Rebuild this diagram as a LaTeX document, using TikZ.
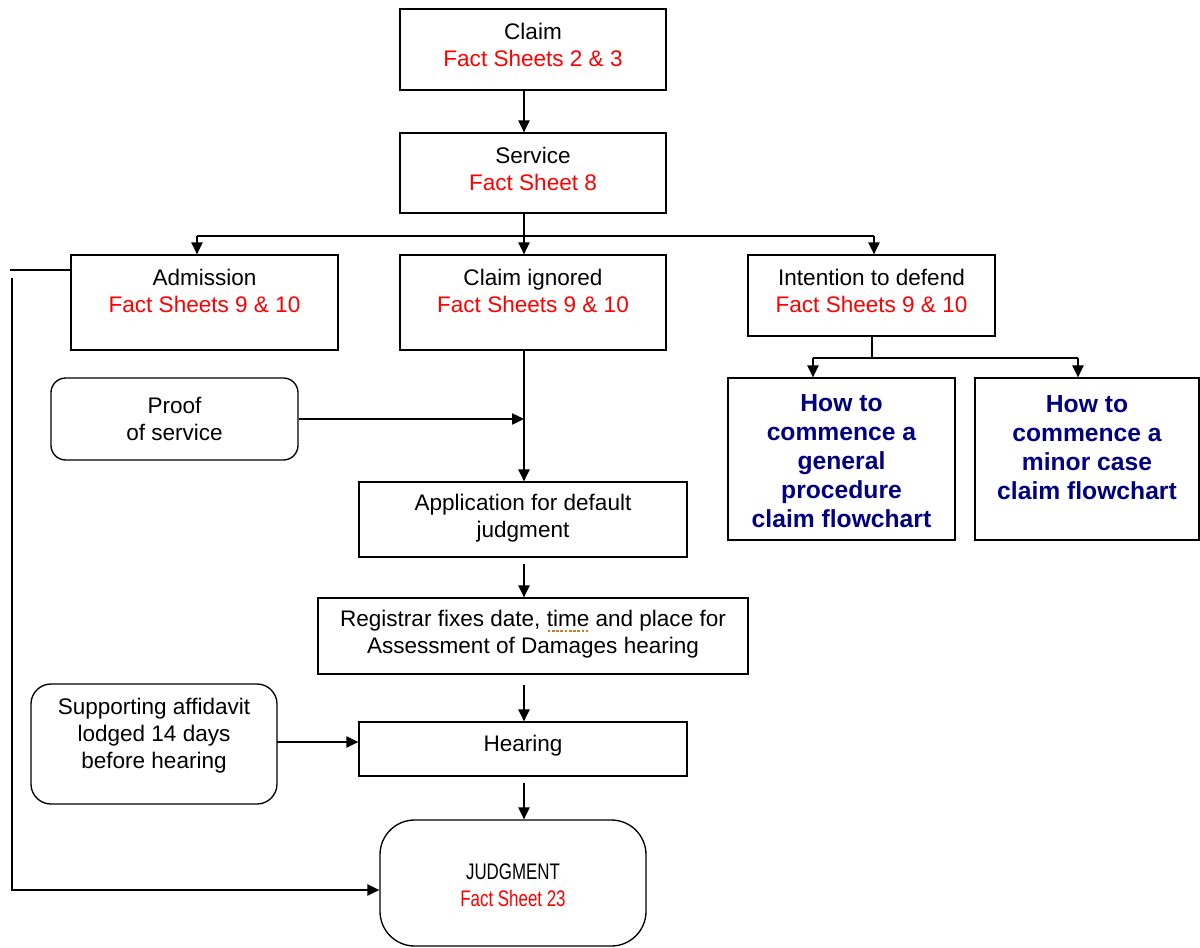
\documentclass[tikz,border=0pt]{standalone}
\usepackage{fontspec}
\setmainfont{Liberation Sans}
\usetikzlibrary{arrows.meta}
\definecolor{fsred}{RGB}{255,0,0}
\definecolor{navyblue}{RGB}{0,0,128}
\definecolor{squig}{RGB}{190,130,40}
\newcommand\squigword[1]{\setbox0=\hbox{#1}\rlap{\textcolor{squig}{\lower3.5pt\hbox to \wd0{\xleaders\hbox to 3pt{\hss\vrule width 2pt height 0.9pt depth 0pt\hss}\hfill}}}#1}
\begin{document}
\begin{tikzpicture}[x=0.75pt,y=-0.75pt,
  box/.style={draw, line width=1pt, inner sep=0pt},
  txt/.style={align=center, inner sep=0pt, font=\fontsize{16.9}{20.25}\selectfont},
  btxt/.style={align=center, inner sep=0pt, text=navyblue, font=\fontsize{18.5}{21.75}\selectfont\bfseries},
  conn/.style={line width=1pt},
  arr/.style={line width=1pt, -{Triangle[length=9pt,width=8.5pt]}},
]
\useasboundingbox (0,0) rectangle (1200,947);
% boxes
\node[box, minimum width=199.5pt, minimum height=60.75pt] (claim) at (533,49.5) {};
\node[box, minimum width=199.5pt, minimum height=60pt] (service) at (533,173) {};
\node[box, minimum width=200.25pt, minimum height=71.25pt] (adm) at (204.5,302.5) {};
\node[box, minimum width=199.5pt, minimum height=71.25pt] (ign) at (533,302.5) {};
\node[box, minimum width=185.25pt, minimum height=60.75pt] (int) at (871.5,295.5) {};
\node[box, minimum width=170.25pt, minimum height=121.5pt] (gen) at (841.5,459) {};
\node[box, minimum width=168pt, minimum height=121.5pt] (minor) at (1087,459) {};
\node[box, rounded corners=11pt, minimum width=185.25pt, minimum height=61.5pt] (proof) at (174.5,419) {};
\node[box, minimum width=246pt, minimum height=56.25pt] (app) at (523,519.5) {};
\node[box, minimum width=322.5pt, minimum height=57pt] (reg) at (533,636) {};
\node[box, minimum width=246pt, minimum height=40.5pt] (hear) at (523,749) {};
\node[box, rounded corners=15pt, minimum width=184.5pt, minimum height=90pt] (aff) at (154,744) {};
\node[box, rounded corners=26pt, minimum width=199.5pt, minimum height=94.5pt] (jud) at (513,883) {};
% texts
\node[txt] (claimT) at (533,44.5) {Claim\\\textcolor{fsred}{Fact Sheets 2 \& 3}};
\node[txt] (serviceT) at (533,168.5) {Service\\\textcolor{fsred}{Fact Sheet 8}};
\node[txt] (admT) at (204.5,290.5) {Admission\\\textcolor{fsred}{Fact Sheets 9 \& 10}};
\node[txt] (ignT) at (533,290.5) {Claim ignored\\\textcolor{fsred}{Fact Sheets 9 \& 10}};
\node[txt] (intT) at (871.5,290.5) {Intention to defend\\\textcolor{fsred}{Fact Sheets 9 \& 10}};
\node[btxt] (genT) at (841.5,461.5) {How to\\commence a\\general\\procedure\\claim flowchart};
\node[btxt] (minorT) at (1087,447.5) {How to\\commence a\\minor case\\claim flowchart};
\node[txt] (proofT) at (174.5,418.5) {Proof\\of service};
\node[txt] (appT) at (523,518.5) {Application for default\\judgment};
\node[txt] (regT) at (533,634.5) {Registrar fixes date, \squigword{time} and place for\\Assessment of Damages hearing};
\node[txt] (hearT) at (523,746) {Hearing};
\node[txt] (affT) at (154,735.5) {Supporting affidavit\\lodged 14 days\\before hearing};
\node[txt] (judT) at (513,885) {\scalebox{0.75}[1]{JUDGMENT}\\\textcolor{fsred}{\scalebox{0.75}[1]{Fact Sheet 23}}};
% helper coordinates
\coordinate (mx) at (524,0);
\coordinate (bL) at (197,236);
\coordinate (bR) at (874,236);
\coordinate (iL) at (813,358);
\coordinate (iR) at (1078,358);
\coordinate (iM) at (872,358);
\coordinate (lA) at (10,270);
\coordinate (lB) at (12,278);
\coordinate (lC) at (12,890);
\coordinate (affE) at (277,742);
% connectors
\draw[arr] (claim.south -| mx) -- (service.north -| mx);
\draw[conn] (service.south -| mx) -- (mx |- bL);
\draw[conn] (bL) -- (bR);
\draw[arr] (bL) -- (bL |- adm.north);
\draw[arr] (mx |- bL) -- (ign.north -| mx);
\draw[arr] (bR) -- (bR |- int.north);
\draw[conn] (iM |- int.south) -- (iM);
\draw[conn] (iL) -- (iR);
\draw[arr] (iL) -- (iL |- gen.north);
\draw[arr] (iR) -- (iR |- minor.north);
\draw[arr] (ign.south -| mx) -- (app.north -| mx);
\draw[arr] (proof.east) -- (mx |- proof.east);
\draw[arr, shorten <=4.5pt] (app.south -| mx) -- (reg.north -| mx);
\draw[arr, shorten <=8pt] (reg.south -| mx) -- (hear.north -| mx);
\draw[arr] (affE) -- (hear.west |- affE);
\draw[arr, shorten <=5pt] (hear.south -| mx) -- (jud.north -| mx);
\draw[conn] (adm.west |- lA) -- (lA);
\draw[arr] (lB) -- (lC) -- (jud.west |- lC);
\end{tikzpicture}
\end{document}
